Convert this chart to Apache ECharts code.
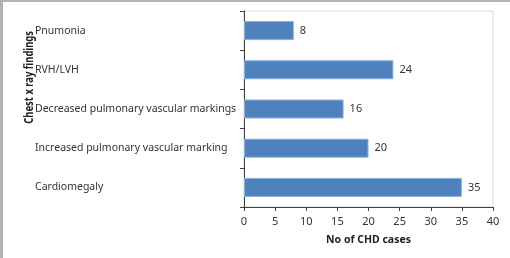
<!DOCTYPE html>
<html><head><meta charset="utf-8">
<script src="https://cdn.jsdelivr.net/npm/echarts@6/dist/echarts.min.js"></script>
<style>html,body{margin:0;padding:0;background:#fff}#c{width:510px;height:258px;box-sizing:border-box;border-top:2px solid #b3b3b3;border-left:3px solid #b3b3b3}</style>
</head><body><div id="c"></div>
<script>
const categories = ["Cardiomegaly","Increased pulmonary vascular marking","Decreased pulmonary vascular markings","RVH/LVH","Pnumonia"];
const values = [35, 20, 16, 24, 8];
const xTicks = [0,5,10,15,20,25,30,35,40];
const FONT = "Noto Sans";
const chart = echarts.init(document.getElementById('c'), null, {renderer:'canvas'});
chart.setOption({
  animation:false,
  textStyle:{fontFamily:FONT},
  grid:{left:241,top:9,width:249,height:196,show:true,borderColor:'#d9d9d9',borderWidth:1},
  xAxis:{type:'value',min:0,max:40,interval:5,
    name:'No of CHD cases',nameLocation:'middle',nameGap:28,
    nameTextStyle:{fontFamily:FONT,fontSize:10.5,fontWeight:'bold',color:'#222'},
    axisLine:{show:true,lineStyle:{color:'#404040',width:1}},
    axisTick:{show:true,length:4,lineStyle:{color:'#404040'}},
    axisLabel:{fontSize:11,color:'#333',margin:9,formatter:v=>xTicks.includes(v)?String(v):''},
    splitLine:{show:false}},
  yAxis:{type:'category',data:categories,
    axisLine:{show:true,lineStyle:{color:'#404040',width:1}},
    axisTick:{show:true,length:4,lineStyle:{color:'#404040'}},
    axisLabel:{fontSize:10.5,color:'#333',align:'left',margin:209},
    splitLine:{show:false}},
  graphic:[{type:'text',left:21,top:29,rotation:Math.PI/2,scaleX:0.82,
    style:{text:'Chest x ray findings',fontFamily:FONT,fontSize:11.5,fontWeight:'bold',fill:'#222'}}],
  series:[{type:'bar',data:values,barWidth:19,
    itemStyle:{color:'#4F81BD',borderColor:'#8db0dc',borderWidth:1},
    label:{show:true,position:'right',distance:6,fontSize:11,color:'#333'}}]
});
</script></body></html>
